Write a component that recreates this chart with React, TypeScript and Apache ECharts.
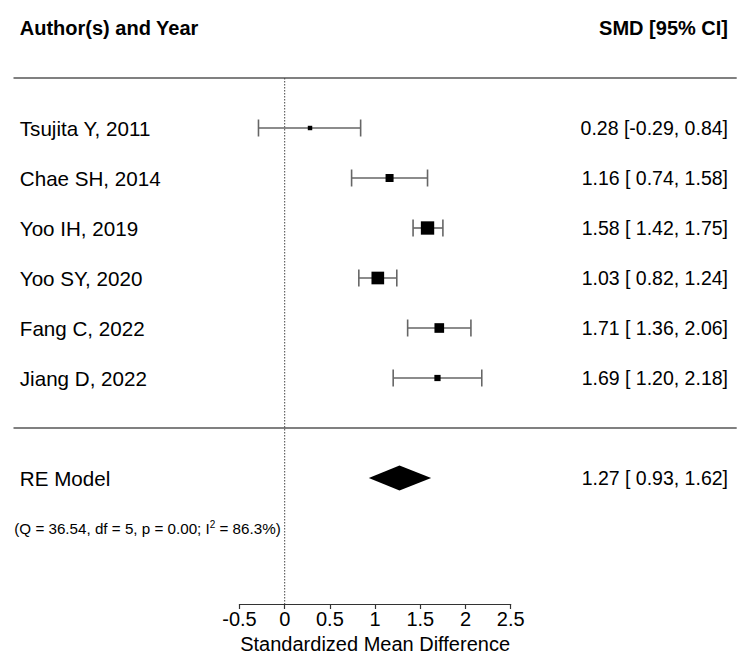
import React, { useEffect, useRef } from "react";
import * as echarts from "echarts";

// ---- data ----
const studies = ["Tsujita Y, 2011", "Chae SH, 2014", "Yoo IH, 2019", "Yoo SY, 2020", "Fang C, 2022", "Jiang D, 2022"];
const smd = [0.28, 1.16, 1.58, 1.03, 1.71, 1.69];
const ciLower = [-0.29, 0.74, 1.42, 0.82, 1.36, 1.2];
const ciUpper = [0.84, 1.58, 1.75, 1.24, 2.06, 2.18];
const weights = [13.3, 15.9, 19.8, 19.3, 17.1, 14.6];

const pooledLabel = "RE Model";
const pooledEst = [1.27];
const pooledLower = [0.93];
const pooledUpper = [1.62];

const hetQ = 36.54;
const hetDf = 5;
const hetP = 0.0;
const hetI2 = 86.3;

const headerLeft = "Author(s) and Year";
const headerRight = "SMD [95% CI]";
const xAxisTitle = "Standardized Mean Difference";
const xTicks = [-0.5, 0, 0.5, 1, 1.5, 2, 2.5];
const xLimits = [-3, 5];

// ---- layout rows (forest plot row units) ----
const k = studies.length;
const studyRow = (i: number) => k - i;
const headerRow = k + 2;
const topLineRow = k + 1;
const sepRow = 0;
const pooledRow = -1;
const statsRow = -2;
const yMin = -3.52;

const FONT = "'Liberation Sans', Arial, Helvetica, sans-serif";
const FS = 19.5;
const FS_LEFT = 20.6;

const fmt = (v: number) => v.toFixed(2);
const allLower = [...ciLower, ...pooledLower].map(fmt);
const allUpper = [...ciUpper, ...pooledUpper].map(fmt);
const lw = Math.max(...allLower.map((s) => s.length));
const uw = Math.max(...allUpper.map((s) => s.length));
const ciText = (e: number, l: number, u: number) =>
  `${fmt(e)} [${fmt(l).padStart(lw, " ")}, ${fmt(u).padStart(uw, " ")}]`;

const wMin = Math.min(...weights);
const wMax = Math.max(...weights);
const markerSize = (w: number) => (0.5 + (w - wMin) / (wMax - wMin)) * 8.9;

export default function App() {
  const ref = useRef<HTMLDivElement>(null);

  useEffect(() => {
    if (!ref.current) return;
    const chart = echarts.init(ref.current, undefined, { renderer: "svg" });

    const ciData = studies.map((_, i) => [ciLower[i], ciUpper[i], studyRow(i), smd[i], markerSize(weights[i])]);

    const textStyle = (extra: any) => ({
      fill: "#000",
      fontSize: FS,
      fontFamily: FONT,
      verticalAlign: "middle",
      ...extra,
    });

    const option: any = {
      animation: false,
      backgroundColor: "#fff",
      grid: { left: 239.5, right: 239.3, top: 28, bottom: 62, containLabel: false },
      xAxis: {
        type: "value",
        min: xTicks[0],
        max: xTicks[xTicks.length - 1],
        interval: xTicks[1] - xTicks[0],
        splitLine: { show: false },
        axisLine: { show: true, onZero: false, lineStyle: { color: "#333", width: 1.2 } },
        axisTick: { show: true, length: 5, lineStyle: { color: "#333", width: 1.2 } },
        axisLabel: { color: "#000", fontSize: 20, fontFamily: FONT, margin: 5 },
        name: xAxisTitle,
        nameLocation: "middle",
        nameGap: 23,
        nameTextStyle: { color: "#000", fontSize: 20, fontFamily: FONT },
      },
      yAxis: {
        type: "value",
        min: yMin,
        max: headerRow,
        show: false,
      },
      series: [
        // horizontal rule lines
        {
          type: "custom",
          clip: false,
          silent: true,
          data: [
            [xLimits[0], xLimits[1], topLineRow],
            [xLimits[0], xLimits[1], sepRow],
          ],
          renderItem: (params: any, api: any) => {
            const a = api.coord([api.value(0), api.value(2)]);
            const b = api.coord([api.value(1), api.value(2)]);
            return {
              type: "line",
              shape: { x1: a[0], y1: a[1], x2: b[0], y2: b[1] },
              style: { stroke: "#808080", lineWidth: 1.8 },
            };
          },
        },
        // reference dotted line at 0
        {
          type: "custom",
          clip: false,
          silent: true,
          data: [[0, topLineRow, yMin]],
          renderItem: (params: any, api: any) => {
            const a = api.coord([api.value(0), api.value(1)]);
            const b = api.coord([api.value(0), api.value(2)]);
            return {
              type: "line",
              shape: { x1: a[0], y1: a[1], x2: b[0], y2: b[1] },
              style: { stroke: "#444", lineWidth: 1, lineDash: [1.5, 1.5] },
            };
          },
        },
        // CI lines + squares
        {
          type: "custom",
          clip: false,
          silent: true,
          data: ciData,
          encode: { x: [0, 1, 3], y: 2 },
          renderItem: (params: any, api: any) => {
            const y = api.value(2);
            const lo = api.coord([api.value(0), y]);
            const hi = api.coord([api.value(1), y]);
            const c = api.coord([api.value(3), y]);
            const s = api.value(4);
            const cap = 8.5;
            const lineStyle = { stroke: "#666", lineWidth: 1.6 };
            return {
              type: "group",
              children: [
                { type: "line", shape: { x1: lo[0], y1: lo[1], x2: hi[0], y2: hi[1] }, style: lineStyle },
                { type: "line", shape: { x1: lo[0], y1: lo[1] - cap, x2: lo[0], y2: lo[1] + cap }, style: lineStyle },
                { type: "line", shape: { x1: hi[0], y1: hi[1] - cap, x2: hi[0], y2: hi[1] + cap }, style: lineStyle },
                { type: "rect", shape: { x: c[0] - s / 2, y: c[1] - s / 2, width: s, height: s }, style: { fill: "#000" } },
              ],
            };
          },
        },
        // pooled diamond
        {
          type: "custom",
          clip: false,
          silent: true,
          data: [[pooledLower[0], pooledUpper[0], pooledRow, pooledEst[0]]],
          renderItem: (params: any, api: any) => {
            const y = api.value(2);
            const lo = api.coord([api.value(0), y]);
            const hi = api.coord([api.value(1), y]);
            const c = api.coord([api.value(3), y]);
            const h = 12.5;
            return {
              type: "polygon",
              shape: {
                points: [
                  [lo[0], lo[1]],
                  [c[0], c[1] - h],
                  [hi[0], hi[1]],
                  [c[0], c[1] + h],
                ],
              },
              style: { fill: "#000" },
            };
          },
        },
        // study labels (left and right columns)
        {
          type: "custom",
          clip: false,
          silent: true,
          data: studies.map((_, i) => [xLimits[0], xLimits[1], studyRow(i)]),
          renderItem: (params: any, api: any) => {
            const i = params.dataIndex;
            const y = api.value(2);
            const l = api.coord([api.value(0), y]);
            const r = api.coord([api.value(1), y]);
            return {
              type: "group",
              children: [
                { type: "text", x: l[0] + 6.3, y: l[1], style: textStyle({ text: studies[i], align: "left", fontSize: FS_LEFT }) },
                {
                  type: "text",
                  x: r[0] - 8.7,
                  y: r[1],
                  style: textStyle({ text: ciText(smd[i], ciLower[i], ciUpper[i]), align: "right" }),
                },
              ],
            };
          },
        },
        // header, pooled labels, heterogeneity stats
        {
          type: "custom",
          clip: false,
          silent: true,
          data: [[xLimits[0], xLimits[1], headerRow, pooledRow, statsRow]],
          renderItem: (params: any, api: any) => {
            const hl = api.coord([api.value(0), api.value(2)]);
            const hr = api.coord([api.value(1), api.value(2)]);
            const pl = api.coord([api.value(0), api.value(3)]);
            const pr = api.coord([api.value(1), api.value(3)]);
            const sl = api.coord([api.value(0), api.value(4)]);
            const statsText =
              `{a|(Q = ${hetQ.toFixed(2)}, df = ${hetDf}, p = ${hetP.toFixed(2)}; I}{s|2}{a| = ${hetI2.toFixed(1)}%)}`;
            return {
              type: "group",
              children: [
                { type: "text", x: hl[0] + 6.3, y: hl[1], style: textStyle({ text: headerLeft, align: "left", fontWeight: "bold", fontSize: 20 }) },
                { type: "text", x: hr[0] - 8.7, y: hr[1], style: textStyle({ text: headerRight, align: "right", fontWeight: "bold", fontSize: 20 }) },
                { type: "text", x: pl[0] + 6.3, y: pl[1], style: textStyle({ text: pooledLabel, align: "left", fontSize: FS_LEFT }) },
                {
                  type: "text",
                  x: pr[0] - 8.7,
                  y: pr[1],
                  style: textStyle({ text: ciText(pooledEst[0], pooledLower[0], pooledUpper[0]), align: "right" }),
                },
                {
                  type: "text",
                  x: sl[0] + 0.8,
                  y: sl[1],
                  style: {
                    text: statsText,
                    align: "left",
                    verticalAlign: "middle",
                    fill: "#000",
                    fontFamily: FONT,
                    fontSize: 15.2,
                    rich: {
                      a: { fontSize: 15.2, fontFamily: FONT, fill: "#000", lineHeight: 18, verticalAlign: "middle" },
                      s: { fontSize: 10, fontFamily: FONT, fill: "#000", lineHeight: 10, verticalAlign: "top" },
                    },
                  },
                },
              ],
            };
          },
        },
      ],
    };

    chart.setOption(option);
    return () => chart.dispose();
  }, []);

  return (
    <div
      ref={ref}
      style={{ position: "fixed", left: 0, top: 0, width: 750, height: 666, background: "#fff" }}
    />
  );
}
